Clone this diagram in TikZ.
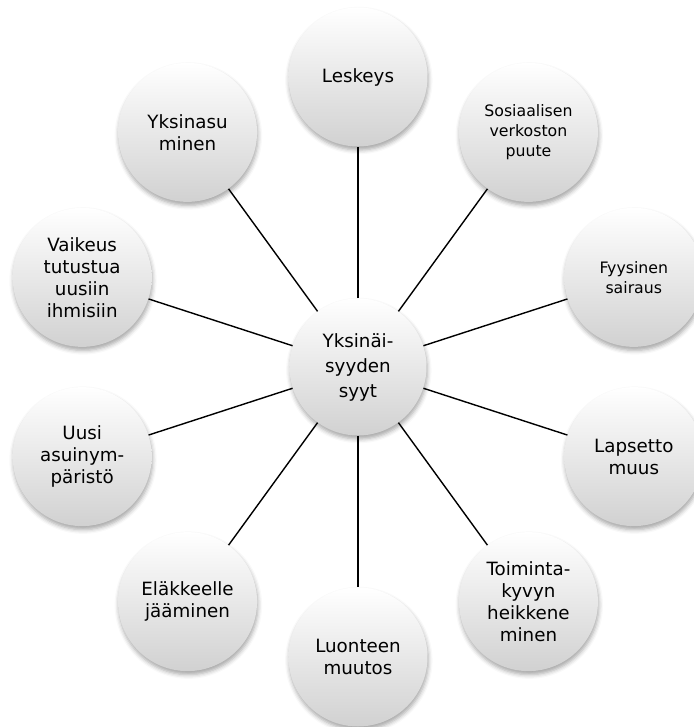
\documentclass[tikz,border=0pt]{standalone}
\usepackage{fontspec}
\setmainfont{DejaVu Sans}
\usetikzlibrary{shadows.blur}

\begin{document}
\begin{tikzpicture}[
  bubble/.style={circle, minimum size=3.475cm, inner sep=0pt, align=center,
    top color=white, bottom color=black!18,
    blur shadow={shadow xshift=0.6pt, shadow yshift=-2.5pt,
      shadow blur radius=3pt, shadow opacity=35}},
  big/.style={font=\fontsize{13}{15.6}\selectfont},
  small/.style={font=\fontsize{11.2}{14.2}\selectfont},
  spoke/.style={line width=1pt}
]
  \useasboundingbox (-8.95,-9.0) rectangle (8.4,9.175);

  % centre circle
  \node[bubble, minimum size=3.425cm, font=\fontsize{13}{17.8}\selectfont]
    (hub) at (0,0) {Yksinäi-\\syyden\\syyt};

  % causes round the centre, 36 degrees apart
  \foreach \i/\ang/\f/\lab in {
      1/90/big/{Leskeys},
      2/54/small/{Sosiaalisen\\verkoston\\puute},
      3/18/small/{Fyysinen\\sairaus},
      4/-18/big/{Lapsetto\\muus},
      5/-54/big/{Toiminta-\\kyvyn\\heikkene\\minen},
      6/-90/big/{Luonteen\\muutos},
      7/-126/big/{Eläkkeelle\\jääminen},
      8/-162/big/{Uusi\\asuinym-\\päristö},
      9/162/big/{Vaikeus\\tutustua\\uusiin\\ihmisiin},
      10/126/big/{Yksinasu\\minen}}{
    \node[bubble,\f] (c\i) at (\ang:7.25) {\lab};
    \draw[spoke] (hub) -- (c\i);
  }
\end{tikzpicture}
\end{document}
